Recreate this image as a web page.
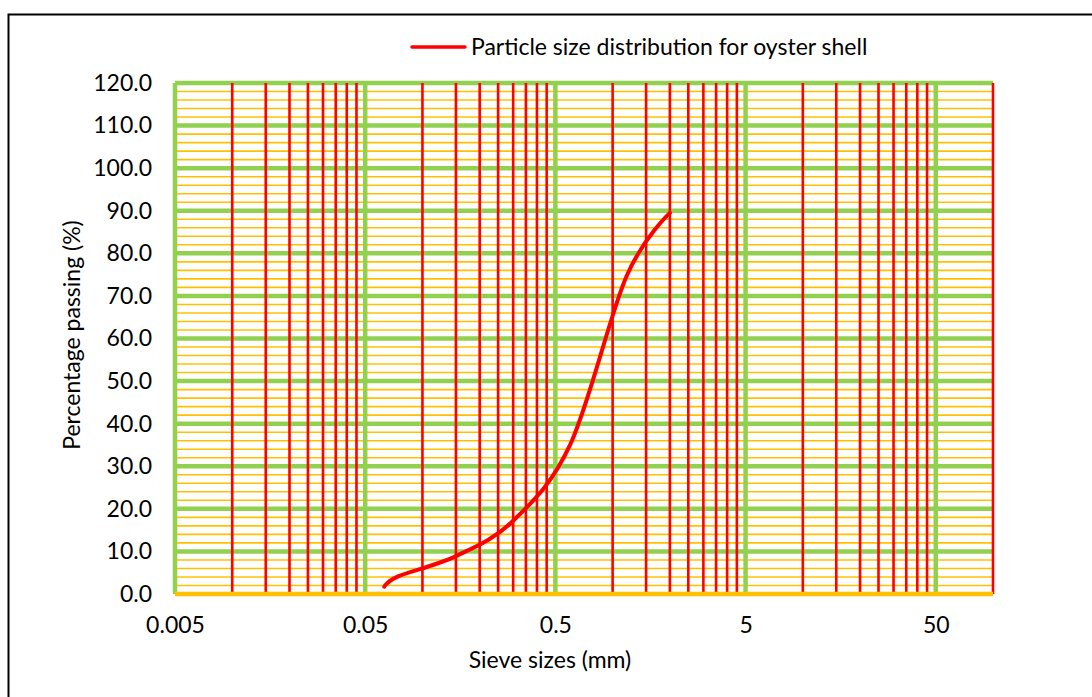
<!DOCTYPE html>
<html>
<head>
<meta charset="utf-8">
<script src="https://cdn.jsdelivr.net/npm/d3@7"></script>
<style>
  body { margin: 0; background: #fff; }
  text { font-family: 'Lato', 'Open Sans', sans-serif; fill: #000; }
</style>
</head>
<body>
<div id="chart"></div>
<script>
// Data
var sieveSizes = [0.063, 0.075, 0.15, 0.3, 0.6, 1.18, 2.0]
var percentPassing = [1.7, 4.2, 8.9, 17.2, 35.2, 74.5, 89.5]
var xTickValues = [0.005, 0.05, 0.5, 5, 50]
var yTickValues = [0, 10, 20, 30, 40, 50, 60, 70, 80, 90, 100, 110, 120]
var seriesName = 'Particle size distribution for oyster shell'

var points = sieveSizes.map(function(s, i) {
  return { size: s, pass: percentPassing[i] }
})

var svgWidth = 1092
var svgHeight = 697
var margin = { top: 83, left: 175, right: 99, bottom: 103 }
var width = svgWidth - margin.left - margin.right
var height = svgHeight - margin.top - margin.bottom
var fontSize = 23

var svg = d3
  .select('#chart')
  .append('svg')
  .attr('width', svgWidth)
  .attr('height', svgHeight)

// outer frame
svg
  .append('rect')
  .attr('x', 8.5)
  .attr('y', 14.5)
  .attr('width', 1200)
  .attr('height', 800)
  .attr('fill', 'none')
  .attr('stroke', '#000')
  .attr('stroke-width', 2)

var g = svg
  .append('g')
  .attr('transform', 'translate(' + margin.left + ',' + margin.top + ')')

var xPositionScale = d3
  .scaleLog()
  .domain([0.005, 100])
  .range([0, width])

var yPositionScale = d3
  .scaleLinear()
  .domain([0, 120])
  .range([height, 0])

// minor values: 2..9 times each major
var xMinor = []
xTickValues.forEach(function(base) {
  for (var k = 2; k <= 9; k++) {
    var v = +(base * k).toPrecision(6)
    if (v <= 100) xMinor.push(v)
  }
})
var yMinor = d3.range(0, 121, 2).filter(d => d % 10 !== 0)

// horizontal minor (orange)
g.selectAll('.y-minor')
  .data(yMinor)
  .enter()
  .append('line')
  .attr('class', 'y-minor')
  .attr('x1', 0)
  .attr('x2', width)
  .attr('y1', d => yPositionScale(d))
  .attr('y2', d => yPositionScale(d))
  .attr('stroke', '#FFC000')
  .attr('stroke-width', 1.6)

// horizontal major (green)
g.selectAll('.y-major')
  .data(yTickValues.filter(d => d > 0))
  .enter()
  .append('line')
  .attr('class', 'y-major')
  .attr('x1', 0)
  .attr('x2', width)
  .attr('y1', d => yPositionScale(d))
  .attr('y2', d => yPositionScale(d))
  .attr('stroke', '#92D050')
  .attr('stroke-width', 4.5)

// vertical minor (red)
g.selectAll('.x-minor')
  .data(xMinor)
  .enter()
  .append('line')
  .attr('class', 'x-minor')
  .attr('x1', d => xPositionScale(d))
  .attr('x2', d => xPositionScale(d))
  .attr('y1', 0)
  .attr('y2', height)
  .attr('stroke', '#FF0000')
  .attr('stroke-width', 2.6)

// vertical major (green)
g.selectAll('.x-major')
  .data(xTickValues)
  .enter()
  .append('line')
  .attr('class', 'x-major')
  .attr('x1', d => xPositionScale(d))
  .attr('x2', d => xPositionScale(d))
  .attr('y1', 0)
  .attr('y2', height)
  .attr('stroke', '#92D050')
  .attr('stroke-width', 4.5)

// bottom axis line
g.append('line')
  .attr('x1', 0)
  .attr('x2', width)
  .attr('y1', height)
  .attr('y2', height)
  .attr('stroke', '#FFC000')
  .attr('stroke-width', 4.5)

// curve (Excel-style smoothed line)
var line = d3
  .line()
  .x(d => xPositionScale(d.size))
  .y(d => yPositionScale(d.pass))
  .curve(d3.curveCardinal.tension(0))

g.append('path')
  .datum(points)
  .attr('d', line)
  .attr('fill', 'none')
  .attr('stroke', '#FF0000')
  .attr('stroke-width', 4)
  .attr('stroke-linecap', 'round')

// Axes
var yAxis = d3
  .axisLeft(yPositionScale)
  .tickValues(yTickValues)
  .tickFormat(d3.format('.1f'))
  .tickSize(0)
  .tickPadding(23)
g.append('g')
  .attr('class', 'axis y-axis')
  .call(yAxis)
  .call(a => a.select('.domain').remove())
  .selectAll('text')
  .attr('font-size', fontSize)
  .attr('font-family', "'Lato', 'Open Sans', sans-serif")

var xAxis = d3
  .axisBottom(xPositionScale)
  .tickValues(xTickValues)
  .tickFormat(d => String(d))
  .tickSize(0)
  .tickPadding(23)
g.append('g')
  .attr('class', 'axis x-axis')
  .attr('transform', 'translate(0,' + height + ')')
  .call(xAxis)
  .call(a => a.select('.domain').remove())
  .selectAll('text')
  .attr('font-size', fontSize)
  .attr('font-family', "'Lato', 'Open Sans', sans-serif")

// Axis titles
svg
  .append('text')
  .text('Sieve sizes (mm)')
  .attr('x', 550)
  .attr('y', 668)
  .attr('text-anchor', 'middle')
  .attr('font-size', fontSize)

svg
  .append('text')
  .text('Percentage passing (%)')
  .attr('transform', 'translate(80,335) rotate(-90)')
  .attr('text-anchor', 'middle')
  .attr('font-size', fontSize)

// Legend
svg
  .append('line')
  .attr('x1', 412)
  .attr('x2', 465)
  .attr('y1', 47)
  .attr('y2', 47)
  .attr('stroke', '#FF0000')
  .attr('stroke-width', 3.5)
  .attr('stroke-linecap', 'round')

svg
  .append('text')
  .text(seriesName)
  .attr('x', 471)
  .attr('y', 55)
  .attr('font-size', fontSize)
</script>
</body>
</html>
